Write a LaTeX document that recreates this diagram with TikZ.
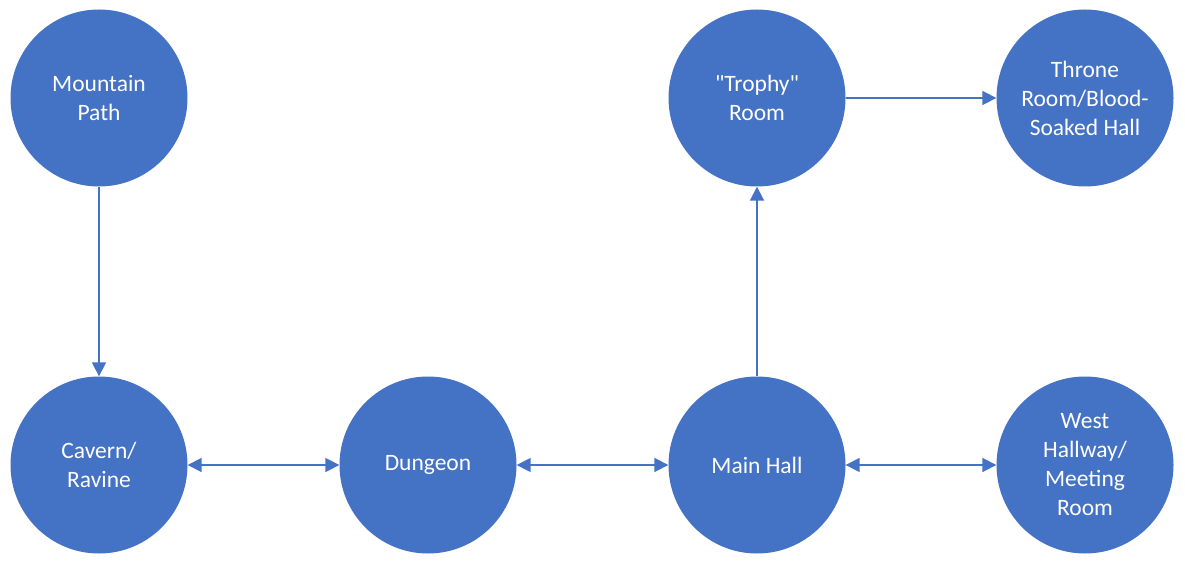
\documentclass[tikz,border=0pt]{standalone}
\usepackage{fontspec}
\setmainfont[Ligatures=TeXOff]{Carlito}
\usetikzlibrary{arrows.meta}
\definecolor{ofblue}{HTML}{4472C4}
\begin{document}
\begin{tikzpicture}[x=1pt,y=-1pt,
  room/.style={circle,fill=ofblue,draw=none,minimum size=177pt,inner sep=0pt,
    text=white,align=center,font=\fontsize{23.5}{29}\selectfont},
  link/.style={draw=ofblue,line width=1.8pt,-{Triangle[length=14pt,width=14pt]}},
  both/.style={draw=ofblue,line width=1.8pt,{Triangle[length=14pt,width=14pt]}-{Triangle[length=14pt,width=14pt]}}]
\useasboundingbox (0,0) rectangle (1185,564);
\node[room] (mp) at (99,98) {Mountain\\Path};
\node[room] (tr) at (757,98) {"Trophy"\\Room};
\node[room] (th) at (1085,98) {Throne\\Room/Blood-\\Soaked Hall};
\node[room] (cv) at (99,465) {Cavern/\\Ravine};
\node[room] (dg) at (428,465) {Dungeon};
\node[room] (mh) at (757,465) {Main Hall};
\node[room] (wh) at (1085,465) {West\\Hallway/\\Meeting\\Room};
\draw[link] (mp) -- (cv);
\draw[link] (mh) -- (tr);
\draw[link] (tr) -- (th);
\draw[both] (cv) -- (dg);
\draw[both] (dg) -- (mh);
\draw[both] (mh) -- (wh);
\end{tikzpicture}
\end{document}
